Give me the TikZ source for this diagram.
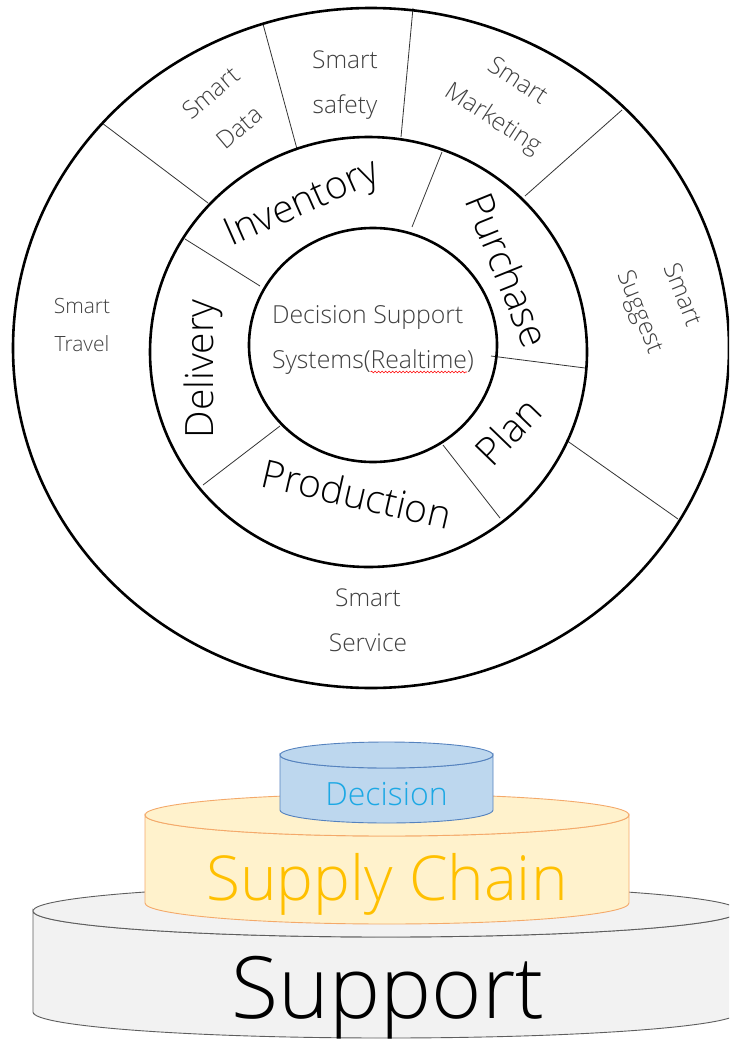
\documentclass[tikz,border=0pt]{standalone}
\usepackage{fontspec}
\setmainfont{Open Sans}[UprightFont={* Light}]
\usetikzlibrary{decorations.pathmorphing}
\definecolor{lbl}{HTML}{404040}
\definecolor{gfill}{HTML}{F2F2F2}
\definecolor{gline}{HTML}{5E5E5E}
\definecolor{yfill}{HTML}{FFF2CC}
\definecolor{yline}{HTML}{F4A96A}
\definecolor{bfill}{HTML}{BDD7EE}
\definecolor{bline}{HTML}{5582BE}
\definecolor{ytext}{HTML}{FFC000}
\definecolor{btext}{HTML}{1CA8E4}
\tikzset{
  ring/.style={line width=2.6pt, draw=black},
  divline/.style={line width=0.8pt, draw=black!80},
  outerlbl/.style={text=lbl, font=\fontsize{24.5}{45}\selectfont, align=center, inner sep=0pt},
  midlbl/.style={text=black, font=\fontsize{39}{39}\selectfont, inner sep=0pt},
  ctrlbl/.style={text=lbl, font=\fontsize{24.8}{24.8}\selectfont, inner sep=0pt, outer sep=0pt, anchor=base west},
  cyl/.style={line width=0.9pt},
}
\begin{document}
\begin{tikzpicture}[x=1pt,y=-1pt]
\useasboundingbox (0,0) rectangle (729,1041);
\clip (0,0) rectangle (729,1041);
\fill[white] (0,0) rectangle (729,1041);
% ---- dividers, outer ring
\draw[divline] (102,123) -- (208,203);
\draw[divline] (263,24) -- (297,149);
\draw[divline] (413,8) -- (401,137);
\draw[divline] (622,110) -- (525,196);
\draw[divline] (678,519) -- (566,440);
% ---- dividers, middle ring
\draw[divline] (185,239) -- (260,286);
\draw[divline] (442,152) -- (412,227);
\draw[divline] (585,368) -- (491,356);
\draw[divline] (500,518) -- (443,445);
\draw[divline] (203,485) -- (280,426);
% ---- rings
\draw[ring] (371,348) ellipse [x radius=358pt, y radius=340pt];
\draw[ring] (368.5,352) ellipse [x radius=218.5pt, y radius=215pt];
\draw[ring] (373,345) ellipse [x radius=124pt, y radius=117pt];
% ---- outer labels
\node[outerlbl, font=\fontsize{21}{38}\selectfont] (travel) at (82,325) {Smart\\Travel};
\node[outerlbl, rotate=40] (data) at (225,110) {Smart\\Data};
\node[outerlbl] (safety) at (345,85) {Smart\\safety};
\node[outerlbl, rotate=-33] (mkt) at (505,101) {Smart\\Marketing};
\node[outerlbl, rotate=-68] (sugg) at (660,304) {Smart\\Suggest};
\node[outerlbl] (serv) at (368,620) {Smart\\Service};
% ---- middle labels
\node[midlbl, rotate=24] (inv) at (303,205) {Inventory};
\node[midlbl, rotate=-68] (pur) at (508,270) {Purchase};
\node[midlbl, rotate=46] (plan) at (508,431) {Plan};
\node[midlbl, rotate=-13] (prod) at (357,494) {Production};
\node[midlbl, rotate=90] (deliv) at (203,369) {Delivery};
% ---- centre
\node[ctrlbl] (dss) at (272,323) {Decision Support};
\node[ctrlbl] (sys1) at (272,368) {Systems(};
\node[ctrlbl] (sys2) at (sys1.base east) {Realtime};
\node[ctrlbl] (sys3) at (sys2.base east) {)};
\draw[red, line width=0.6pt, decorate, decoration={snake, amplitude=0.9pt, segment length=3.5pt}]
  ([yshift=-4pt]sys2.base west) -- ([yshift=-4pt]sys2.base east);
% ---- stacked cylinders
\filldraw[cyl, fill=gfill, draw=gline] (33,911) -- (33,1012)
  arc[start angle=180, end angle=360, x radius=353pt, y radius=26pt] -- (739,911)
  arc[start angle=0, end angle=-180, x radius=353pt, y radius=26pt] -- cycle;
\filldraw[cyl, fill=gfill, draw=gline] (386,911) ellipse [x radius=353pt, y radius=26pt];
\filldraw[cyl, fill=yfill, draw=yline] (145,815) -- (145,903)
  arc[start angle=180, end angle=360, x radius=242pt, y radius=21pt] -- (629,815)
  arc[start angle=0, end angle=-180, x radius=242pt, y radius=21pt] -- cycle;
\filldraw[cyl, fill=yfill, draw=yline] (387,815) ellipse [x radius=242pt, y radius=21pt];
\filldraw[cyl, fill=bfill, draw=bline] (280,755) -- (280,810)
  arc[start angle=180, end angle=360, x radius=106.5pt, y radius=13pt] -- (493,755)
  arc[start angle=0, end angle=-180, x radius=106.5pt, y radius=13pt] -- cycle;
\filldraw[cyl, fill=bfill, draw=bline] (386.5,755) ellipse [x radius=106.5pt, y radius=13pt];
\node[font=\fontsize{86}{86}\selectfont, text=black, anchor=base, inner sep=0pt] (sup) at (388,1018) {Support};
\node[font=\fontsize{62}{62}\selectfont, text=ytext, anchor=base, inner sep=0pt] (sc) at (387,900) {Supply Chain};
\node[font=\fontsize{32}{32}\selectfont, text=btext, anchor=base, inner sep=0pt] (dec) at (386.5,805) {Decision};
\end{tikzpicture}
\end{document}
